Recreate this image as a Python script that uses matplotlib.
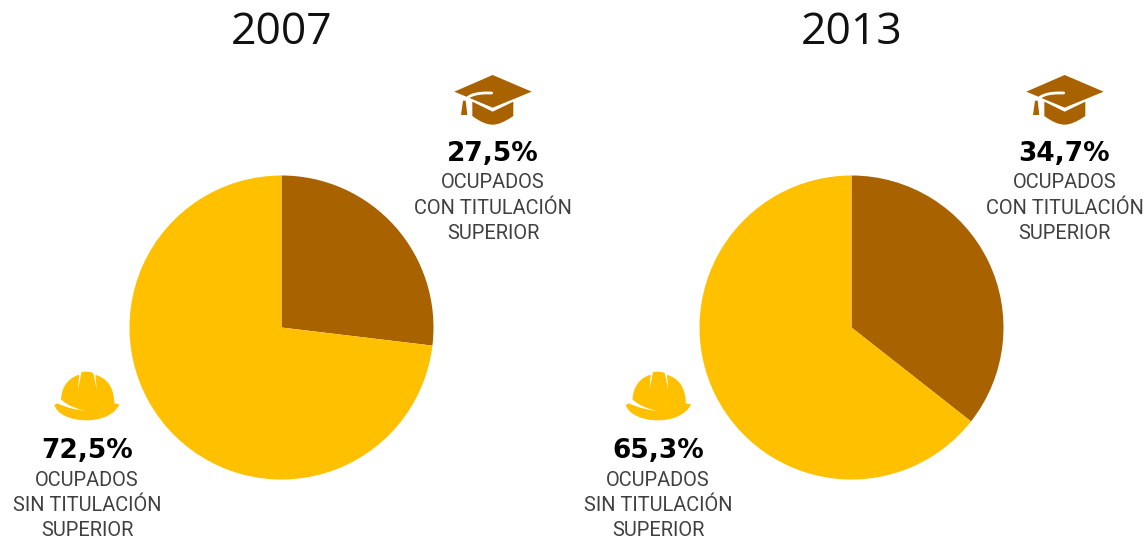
import matplotlib
matplotlib.use("Agg")
import matplotlib.pyplot as plt
from matplotlib.path import Path
from matplotlib.patches import PathPatch

years = ["2007", "2013"]
slice_con = [26.9, 35.6]
slice_sin = [73.1, 64.4]
pct_con = ["27,5%", "34,7%"]
pct_sin = ["72,5%", "65,3%"]
label_con = "OCUPADOS\nCON TITULACIÓN\nSUPERIOR"
label_sin = "OCUPADOS\nSIN TITULACIÓN\nSUPERIOR"

BROWN = "#A86200"
YELLOW = "#FFC000"
TXT = "#404040"
W, H = 1148, 538
fam = ["Open Sans", "DejaVu Sans"]
lab = ["Roboto", "DejaVu Sans"]

fig = plt.figure(figsize=(W / 100, H / 100), dpi=100, facecolor="white")
centers = [281.5, 851.5]
R = 152

for i, cx in enumerate(centers):
    ax = fig.add_axes([(cx - R) / W, 1 - (327.5 + R) / H, 2 * R / W, 2 * R / H])
    ax.pie([slice_con[i], slice_sin[i]], colors=[BROWN, YELLOW],
           startangle=90, counterclock=False, radius=1)
    ax.set_xlim(-1, 1)
    ax.set_ylim(-1, 1)

ov = fig.add_axes([0, 0, 1, 1])
ov.set_xlim(0, W)
ov.set_ylim(H, 0)
ov.axis("off")
ov.patch.set_alpha(0)


def shape(cmds, ox, oy, color, lw=0, z=3):
    verts, codes = [], []
    for c, pts in cmds:
        code = {"M": Path.MOVETO, "L": Path.LINETO, "C": Path.CURVE4,
                "Z": Path.CLOSEPOLY}[c]
        for p in pts:
            verts.append((ox + p[0] / 3, oy + p[1] / 3))
            codes.append(code)
    ov.add_patch(PathPatch(Path(verts, codes), facecolor=color if lw == 0 else "none",
                           edgecolor=color if lw else "none", lw=lw, zorder=z,
                           capstyle="round"))


def cap(dx):
    ox, oy = 410 + dx, 60
    shape([("M", [(133, 95)]), ("L", [(248, 45), (365, 95), (248, 143)]),
           ("Z", [(133, 95)])], ox, oy, BROWN)
    shape([("M", [(187, 125)]), ("L", [(248, 155), (310, 125), (310, 168)]),
           ("C", [(285, 185), (265, 194), (248, 194)]),
           ("C", [(230, 194), (210, 185), (187, 168)]),
           ("Z", [(187, 125)])], ox, oy, BROWN)
    shape([("M", [(163, 128)]), ("C", [(168, 108), (195, 97), (245, 99)])],
          ox, oy, "white", lw=2.0, z=4)
    shape([("M", [(159, 122)]), ("L", [(167, 122), (172, 165), (153, 165)]),
           ("Z", [(159, 122)])], ox, oy, BROWN, z=5)


def helmet(dx):
    ox, oy = 50 + dx, 365
    shape([("M", [(33, 103)]),
           ("C", [(35, 65), (55, 38), (88, 29)]),
           ("C", [(92, 22), (96, 20), (108, 20)]),
           ("C", [(122, 20), (128, 22), (134, 29)]),
           ("C", [(170, 38), (192, 65), (193, 115)]),
           ("L", [(208, 118)]),
           ("C", [(195, 150), (150, 166), (110, 166)]),
           ("C", [(65, 166), (22, 150), (13, 120)]),
           ("L", [(22, 115)]),
           ("C", [(50, 128), (80, 135), (108, 138)]),
           ("C", [(85, 133), (55, 124), (33, 103)]),
           ("Z", [(33, 103)])], ox, oy, YELLOW)
    for top_l, top_r, tip in [(88, 94, (84, 74)), (130, 136, (140, 74))]:
        shape([("M", [(top_l, 24)]), ("L", [(top_r, 24), tip]),
               ("Z", [(top_l, 24)])], ox, oy, "white", z=4)


for i, cx in enumerate(centers):
    ov.text(cx, 33, years[i], ha="center", va="center", fontsize=32,
            family=fam, color="#111111")
    rx = cx + 211.5 + (0 if i == 0 else 1.5)
    lx = cx - 194.5 - (0 if i == 0 else -1)
    ov.text(rx, 154, pct_con[i], ha="center", va="center", fontsize=19,
            family="DejaVu Sans", fontweight="bold", color="black")
    ov.text(rx, 208, label_con, ha="center", va="center", fontsize=14.4,
            family=lab, color=TXT, linespacing=1.42)
    ov.text(lx, 451, pct_sin[i], ha="center", va="center", fontsize=19,
            family="DejaVu Sans", fontweight="bold", color="black")
    ov.text(lx, 505.5, label_sin, ha="center", va="center", fontsize=14.4,
            family=lab, color=TXT, linespacing=1.42)
    cap(0 if i == 0 else 572)
    helmet(0 if i == 0 else 571.5)

fig.savefig("out.png", dpi=100, facecolor="white")
